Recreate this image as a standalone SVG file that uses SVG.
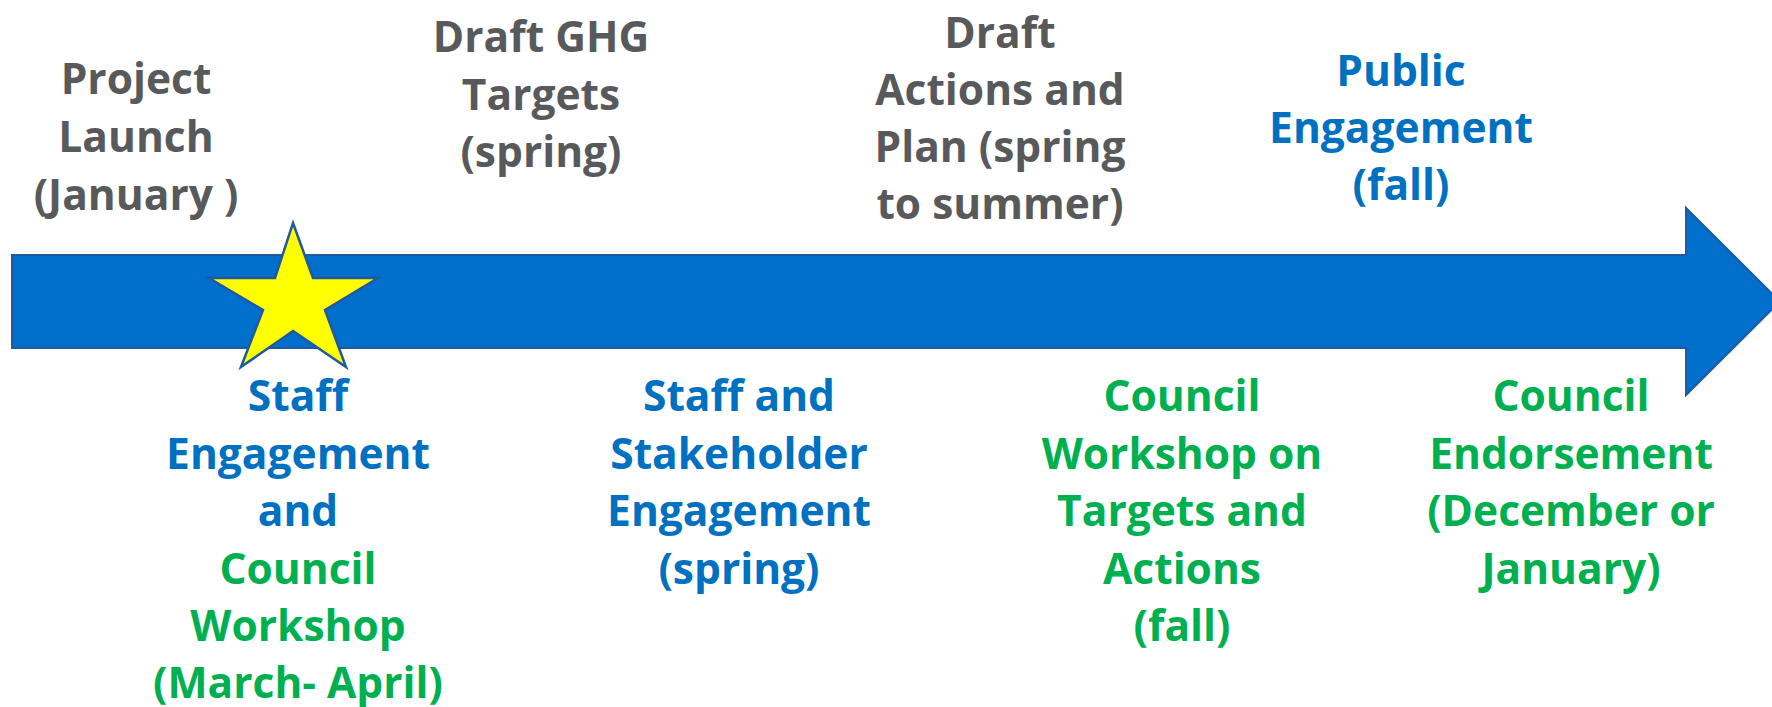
<svg xmlns="http://www.w3.org/2000/svg" width="1772" height="707" viewBox="0 0 1772 707">
<style>
text{font-family:"Open Sans","Noto Sans","DejaVu Sans",sans-serif;font-weight:700;font-size:42.5px;text-anchor:middle}
.g{fill:#58595B}.b{fill:#0070C0}.n{fill:#00B050}
</style>
<rect width="1772" height="707" fill="#FFFFFF"/>
<g id="connectors">
<path id="timeline" d="M12,255 H1686 V208 L1780,301.5 L1686,395 V348 H12 Z" fill="#0070CC" stroke="#1F5A9E" stroke-width="2"/>
</g>
<g id="star"><polygon points="293,223 313,278 378,278 325,310 346,367 293,331 241,367 263,310 209,278 275,278" fill="#FFFF00" stroke="#1F5A9E" stroke-width="2.5" stroke-linejoin="miter"/></g>
<g id="project-launch"><text class="g"><tspan x="136" y="94">Project</tspan><tspan x="136" y="152">Launch</tspan><tspan x="136" y="210">(January )</tspan></text></g>
<g id="draft-ghg"><text class="g"><tspan x="541" y="52">Draft GHG</tspan><tspan x="541" y="110">Targets</tspan><tspan x="541" y="167">(spring)</tspan></text></g>
<g id="draft-actions"><text class="g"><tspan x="1000" y="48">Draft</tspan><tspan x="1000" y="105">Actions and</tspan><tspan x="1000" y="162">Plan (spring</tspan><tspan x="1000" y="219">to summer)</tspan></text></g>
<g id="public-engagement"><text class="b"><tspan x="1401" y="86">Public</tspan><tspan x="1401" y="143">Engagement</tspan><tspan x="1401" y="200">(fall)</tspan></text></g>
<g id="staff-engagement"><text><tspan class="b" x="298" y="411">Staff</tspan><tspan class="b" x="298" y="469">Engagement</tspan><tspan class="b" x="298" y="526">and</tspan><tspan class="n" x="298" y="584">Council</tspan><tspan class="n" x="298" y="641">Workshop</tspan><tspan class="n" x="298" y="698">(March- April)</tspan></text></g>
<g id="stakeholder-engagement"><text class="b"><tspan x="739" y="411">Staff and</tspan><tspan x="739" y="469">Stakeholder</tspan><tspan x="739" y="526">Engagement</tspan><tspan x="739" y="584">(spring)</tspan></text></g>
<g id="council-workshop"><text class="n"><tspan x="1182" y="411">Council</tspan><tspan x="1182" y="469">Workshop on</tspan><tspan x="1182" y="526">Targets and</tspan><tspan x="1182" y="584">Actions</tspan><tspan x="1182" y="641">(fall)</tspan></text></g>
<g id="council-endorsement"><text class="n"><tspan x="1571" y="411">Council</tspan><tspan x="1571" y="469">Endorsement</tspan><tspan x="1571" y="526">(December or</tspan><tspan x="1571" y="584">January)</tspan></text></g>
</svg>
